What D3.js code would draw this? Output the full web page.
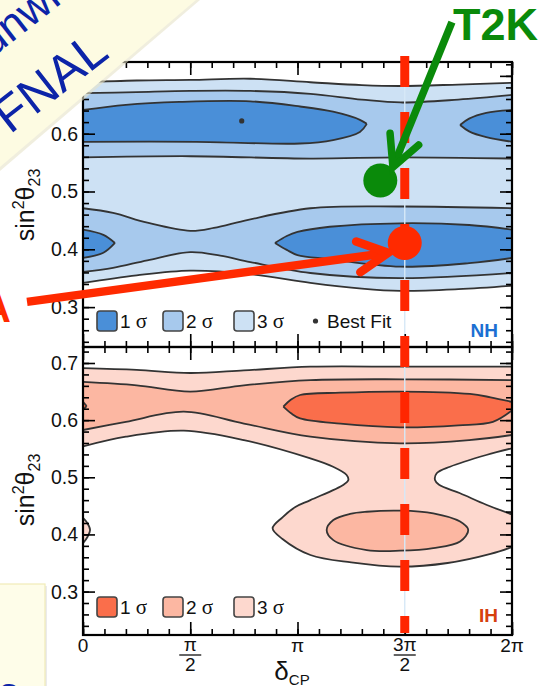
<!DOCTYPE html>
<html><head><meta charset="utf-8">
<script src="https://cdn.jsdelivr.net/npm/d3@7"></script>
<style>
body{margin:0;background:#fff;overflow:hidden;}
svg{display:block;font-family:"Liberation Sans",Arial,Helvetica,sans-serif;}
</style>
</head><body>
<svg id="chart" width="539" height="686"></svg>
<script>
// Allowed regions in (δCP / π, sin²θ23). Each contour line is a list of [δ/π, sin²θ23].

// ---- Normal hierarchy ----
const nh3Top    = [[0,0.689],[0.25,0.692],[0.5,0.693],[0.78,0.695],[1.06,0.689],[1.3,0.684],[1.48,0.6825],[1.75,0.685],[2,0.688]];
const nh3Bottom = [[0,0.342],[0.25,0.355],[0.5,0.363],[0.78,0.357],[1.06,0.342],[1.3,0.332],[1.48,0.328],[1.75,0.331],[2,0.337]];
const nh2UpperTop    = [[0,0.670],[0.25,0.672],[0.5,0.674],[0.78,0.674],[1.06,0.669],[1.3,0.659],[1.48,0.654],[1.75,0.659],[2,0.667]];
const nh2UpperBottom = [[0,0.559],[0.5,0.561],[1.06,0.557],[1.48,0.559],[2,0.557]];
const nh2LowerTop    = [[0,0.471],[0.14,0.463],[0.30,0.446],[0.5,0.432],[0.61,0.437],[0.77,0.451],[1.06,0.471],[1.48,0.474],[2,0.471]];
const nh2LowerBottom = [[0,0.361],[0.14,0.368],[0.30,0.381],[0.5,0.395],[0.64,0.389],[0.78,0.378],[1.06,0.359],[1.48,0.350],[2,0.359]];
const nh1UpperTop    = [[0,0.641],[0.2,0.650],[0.45,0.655],[0.78,0.656],[1.012,0.647],[1.166,0.638],[1.291,0.624],[1.323,0.617]];
const nh1UpperBottom = [[0,0.586],[0.53,0.586],[1.012,0.583],[1.166,0.589],[1.291,0.603],[1.323,0.617]];
const nh1WrapTop     = [[1.758,0.615],[1.80,0.626],[1.88,0.636],[2,0.641]];
const nh1WrapBottom  = [[1.758,0.615],[1.80,0.604],[1.88,0.594],[2,0.586]];
const nh1LowerTop    = [[0.895,0.411],[0.95,0.423],[1.0,0.430],[1.15,0.439],[1.48,0.445],[1.80,0.442],[2,0.434]];
const nh1LowerBottom = [[0.895,0.411],[0.95,0.399],[1.0,0.390],[1.15,0.383],[1.48,0.370],[1.80,0.376],[2,0.385]];
const nh1EdgeTop     = [[0,0.434],[0.095,0.425],[0.149,0.411]];
const nh1EdgeBottom  = [[0,0.385],[0.095,0.394],[0.149,0.411]];
const nhBestFit = [0.74, 0.622];

// ---- Inverted hierarchy ----
const ih3Top   = [[0,0.691],[0.25,0.688],[0.5,0.6825],[0.75,0.687],[1.06,0.6935],[1.5,0.6935],[2,0.6935]];
const ih3Left  = [[0,0.554],[0.2,0.571],[0.47,0.5815],[0.75,0.565],[1.06,0.533],[1.166,0.5185],[1.229,0.504],[1.237,0.4952],[1.215,0.487],[1.06,0.46],[0.99,0.448],[0.93,0.43],[0.884,0.4107],[0.93,0.392],[1.06,0.364],[1.25,0.351],[1.478,0.3435],[1.7,0.350],[1.9,0.366],[2,0.378]];
const ih3Right = [[2,0.5507],[1.88,0.539],[1.711,0.5185],[1.649,0.507],[1.641,0.4952],[1.66,0.487],[1.758,0.472],[1.88,0.452],[2,0.435]];
const ih3Edge  = [[0,0.4288],[0.02,0.42],[0.033,0.4077],[0.02,0.395],[0,0.3845]];
const ih2Top    = [[0,0.667],[0.25,0.661],[0.5,0.650],[0.75,0.661],[1.06,0.670],[1.5,0.6715],[2,0.670]];
const ih2Bottom = [[0,0.5827],[0.2,0.597],[0.47,0.6148],[0.75,0.594],[1.06,0.571],[1.48,0.5595],[1.8,0.565],[2,0.574]];
const ih2Blob   = [[1.136,0.4077],[1.167,0.4252],[1.245,0.436],[1.323,0.4397],[1.478,0.4415],[1.633,0.437],[1.758,0.4225],[1.796,0.4077],[1.758,0.3875],[1.633,0.376],[1.478,0.3715],[1.323,0.3727],[1.167,0.390]];
const ih1Top    = [[0.934,0.6235],[0.97,0.636],[1.012,0.644],[1.2,0.648],[1.478,0.650],[1.804,0.6458],[1.9,0.640],[2,0.632]];
const ih1Bottom = [[0.934,0.6235],[0.97,0.612],[1.012,0.6032],[1.2,0.594],[1.478,0.5875],[1.75,0.591],[1.911,0.597],[2,0.617]];
const ih1EdgeTop    = [[0,0.632],[0.017,0.6247]];
const ih1EdgeBottom = [[0,0.618],[0.017,0.6247]];

// ---- Reference points ----
const t2kPoint  = [1.386, 0.519];
const novaPoint = [1.5, 0.411];
const t2kArrow  = [[1.72, 0.793], [1.445, 0.542]];
const novaArrow = [[-0.261, 0.309], [1.423, 0.394]];
const maxViolation = 1.5;

// ---- Axis ticks ----
const xMinorTicks = d3.range(0, 2.001, 0.1);
const xMajorTicks = [0, 0.5, 1, 1.5, 2];
const xTickLabels = [
  {v:0,   num:"0"},
  {v:0.5, num:"π", den:"2"},
  {v:1,   num:"π"},
  {v:1.5, num:"3π", den:"2"},
  {v:2,   num:"2π"}
];
const yMinorTicks = d3.range(0.24, 0.721, 0.02);
const yMajorTicks = [0.3, 0.4, 0.5, 0.6, 0.7];
const sigmaLabels = ["1", "2", "3"];

const blues = ["#4a8fd8", "#a7c9ed", "#cde1f4"];
const reds  = ["#fa6e4b", "#fcb7a2", "#fdd8ce"];
const lineColor = "#333";

const svg = d3.select("#chart");
const L = 83, R = 512;
const x = d3.scaleLinear().domain([0, 2]).range([L, R]);

const panels = [
  {id:"nh", y: d3.scaleLinear().domain([0.231, 0.724]).range([347, 62]), top:62, bottom:347,
   ticks:[0.3,0.4,0.5,0.6], colors: blues, name:"NH", nameColor:"#1c6fd2", titleY:205},
  {id:"ih", y: d3.scaleLinear().domain([0.224, 0.728]).range([635, 347]), top:347, bottom:635,
   ticks:[0.3,0.4,0.5,0.6,0.7], colors: reds, name:"IH", nameColor:"#d6400e", titleY:490}
];

const defs = svg.append("defs");
panels.forEach(p => {
  defs.append("clipPath").attr("id", "clip-" + p.id)
    .append("rect").attr("x", L).attr("y", p.top).attr("width", R - L).attr("height", p.bottom - p.top);
});

function lineGen(y) {
  return d3.line().x(d => x(d[0])).y(d => y(d[1])).curve(d3.curveCatmullRom.alpha(0.5));
}
// Join several curves into one closed outline, straight segments between them.
function regionPath(y, parts) {
  const lg = lineGen(y);
  return parts.map((c, i) => {
    const s = lg(c);
    return i === 0 ? s : "L" + s.slice(1);
  }).join("") + "Z";
}
const rev = a => a.slice().reverse();

function drawPanel(p, fills, strokes, closedFills, closedStrokes) {
  const g = svg.append("g").attr("clip-path", `url(#clip-${p.id})`);
  fills.forEach(f => {
    g.append("path").attr("d", regionPath(p.y, f.parts)).attr("fill", p.colors[f.level]);
  });
  const lgc = d3.line().x(d => x(d[0])).y(d => p.y(d[1])).curve(d3.curveCatmullRomClosed.alpha(0.5));
  closedFills.forEach(f => {
    g.append("path").attr("d", lgc(f.pts)).attr("fill", p.colors[f.level]);
  });
  const lg = lineGen(p.y);
  strokes.forEach(c => {
    g.append("path").attr("d", lg(c)).attr("fill", "none")
      .attr("stroke", lineColor).attr("stroke-width", 1.8).attr("stroke-linejoin", "round");
  });
  closedStrokes.forEach(c => {
    g.append("path").attr("d", lgc(c)).attr("fill", "none")
      .attr("stroke", lineColor).attr("stroke-width", 1.8);
  });
  return g;
}

// NH contours
const gNH = drawPanel(panels[0],
  [
    {level:2, parts:[nh3Top, rev(nh3Bottom)]},
    {level:1, parts:[nh2UpperTop, rev(nh2UpperBottom)]},
    {level:1, parts:[nh2LowerTop, rev(nh2LowerBottom)]},
    {level:0, parts:[nh1UpperTop, rev(nh1UpperBottom)]},
    {level:0, parts:[nh1WrapTop, rev(nh1WrapBottom)]},
    {level:0, parts:[nh1LowerTop, rev(nh1LowerBottom)]},
    {level:0, parts:[nh1EdgeTop, rev(nh1EdgeBottom)]}
  ],
  [nh3Top, nh3Bottom, nh2UpperTop, nh2UpperBottom, nh2LowerTop, nh2LowerBottom,
   nh1UpperTop, nh1UpperBottom, nh1WrapTop, nh1WrapBottom, nh1LowerTop, nh1LowerBottom, nh1EdgeTop, nh1EdgeBottom],
  [], []);
gNH.append("circle").attr("cx", x(nhBestFit[0])).attr("cy", panels[0].y(nhBestFit[1])).attr("r", 2.6).attr("fill", "#333");

// IH contours
drawPanel(panels[1],
  [
    {level:2, parts:[ih3Top, ih3Right, rev(ih3Left)]},
    {level:2, parts:[ih3Edge]},
    {level:1, parts:[ih2Top, rev(ih2Bottom)]},
    {level:0, parts:[ih1Top, rev(ih1Bottom)]},
    {level:0, parts:[ih1EdgeTop, rev(ih1EdgeBottom)]}
  ],
  [ih3Top, ih3Left, ih3Right, ih3Edge, ih2Top, ih2Bottom, ih1Top, ih1Bottom, ih1EdgeTop, ih1EdgeBottom],
  [{level:1, pts: ih2Blob}], [ih2Blob]);

// thin guide at 3π/2 through both panels
svg.append("line").attr("x1", x(maxViolation)).attr("x2", x(maxViolation))
  .attr("y1", panels[0].top).attr("y2", panels[1].bottom)
  .attr("stroke", "#d7e8f7").attr("stroke-width", 1.4);

// Axes: inward ticks on all four sides
function styleAxis(sel) {
  sel.select(".domain").remove();
  sel.selectAll(".tick line").attr("stroke", "#000").attr("stroke-width", 1.6);
  sel.selectAll(".tick text").remove();
}
panels.forEach(p => {
  [[xMinorTicks, 6], [xMajorTicks, 13]].forEach(([vals, len]) => {
    svg.append("g").attr("transform", `translate(0,${p.bottom})`)
      .call(d3.axisBottom(x).tickValues(vals).tickSize(-len)).call(styleAxis);
    svg.append("g").attr("transform", `translate(0,${p.top})`)
      .call(d3.axisTop(x).tickValues(vals).tickSize(-len)).call(styleAxis);
  });
  const yDom = p.y.domain();
  const inDom = v => v > yDom[0] + 0.003 && v < yDom[1] - 0.003;
  [[yMinorTicks.filter(inDom), 6], [yMajorTicks.filter(inDom), 12]].forEach(([vals, len]) => {
    svg.append("g").attr("transform", `translate(${L},0)`)
      .call(d3.axisLeft(p.y).tickValues(vals).tickSize(-len)).call(styleAxis);
    svg.append("g").attr("transform", `translate(${R},0)`)
      .call(d3.axisRight(p.y).tickValues(vals).tickSize(-len)).call(styleAxis);
  });
  svg.append("rect").attr("x", L).attr("y", p.top).attr("width", R - L).attr("height", p.bottom - p.top)
    .attr("fill", "none").attr("stroke", "#000").attr("stroke-width", 2.2);

  // y tick labels
  p.ticks.forEach(v => {
    svg.append("text").attr("x", 78).attr("y", p.y(v) + 7).attr("text-anchor", "end")
      .attr("font-size", 19.5).attr("fill", "#111").text(v.toFixed(1));
  });
  // y title sin²θ23
  const t = svg.append("text")
    .attr("transform", `translate(34,${p.titleY}) rotate(-90)`)
    .attr("text-anchor", "middle").attr("font-size", 25).attr("fill", "#111");
  t.append("tspan").text("sin");
  t.append("tspan").attr("font-size", 16).attr("dy", -10).text("2");
  t.append("tspan").attr("dy", 10).text("θ");
  t.append("tspan").attr("font-size", 16).attr("dy", 6).text("23");

  // panel name
  svg.append("text").attr("x", 498).attr("y", p.id === "nh" ? 337 : 622).attr("text-anchor", "end")
    .attr("font-size", 19).attr("font-weight", "bold").attr("fill", p.nameColor).text(p.name);

  // legend
  const ly = p.id === "nh" ? 311 : 597;
  const lx = [97, 163, 234];
  sigmaLabels.forEach((s, i) => {
    svg.append("rect").attr("x", lx[i]).attr("y", ly).attr("width", 20).attr("height", 20).attr("rx", 3)
      .attr("fill", p.colors[i]).attr("stroke", "#444").attr("stroke-width", 1.6);
    const tt = svg.append("text").attr("x", lx[i] + 23).attr("y", ly + 17).attr("font-size", 19).attr("fill", "#111");
    tt.append("tspan").text(s + " ");
    tt.append("tspan").attr("font-family", "'Liberation Serif',serif").attr("font-size", 21).text("σ");
  });
  if (p.id === "nh") {
    svg.append("circle").attr("cx", 315.5).attr("cy", ly + 10).attr("r", 2.6).attr("fill", "#333");
    svg.append("text").attr("x", 327).attr("y", ly + 17).attr("font-size", 19).attr("fill", "#111").text("Best Fit");
  }
});

// x tick labels
xTickLabels.forEach(d => {
  const cx = x(d.v);
  if (d.den) {
    svg.append("text").attr("x", cx).attr("y", 651).attr("text-anchor", "middle").attr("font-size", 19)
      .attr("fill", "#111").text(d.num);
    svg.append("line").attr("x1", cx - 11).attr("x2", cx + 11).attr("y1", 655).attr("y2", 655)
      .attr("stroke", "#111").attr("stroke-width", 1.3);
    svg.append("text").attr("x", cx).attr("y", 671).attr("text-anchor", "middle").attr("font-size", 19)
      .attr("fill", "#111").text(d.den);
  } else {
    svg.append("text").attr("x", cx).attr("y", 652).attr("text-anchor", "middle").attr("font-size", 19)
      .attr("fill", "#111").text(d.num);
  }
});
const xt = svg.append("text").attr("x", 292).attr("y", 680).attr("text-anchor", "middle").attr("font-size", 26).attr("fill", "#111");
xt.append("tspan").text("δ");
xt.append("tspan").attr("font-size", 15).attr("dy", 5).text("CP");

// dashed line at maximal CP violation
svg.append("line").attr("x1", x(maxViolation)).attr("x2", x(maxViolation))
  .attr("y1", 56).attr("y2", 633)
  .attr("stroke", "#ff2600").attr("stroke-width", 9).attr("stroke-dasharray", "31,25");

// arrow helper: shaft + open head
function arrow(pts, y, color, width) {
  const [a, b] = pts;
  const x1 = x(a[0]), y1 = y(a[1]), x2 = x(b[0]), y2 = y(b[1]);
  const ang = Math.atan2(y2 - y1, x2 - x1);
  const len = 34, spread = 27 * Math.PI / 180;
  const w1 = [x2 - len * Math.cos(ang - spread), y2 - len * Math.sin(ang - spread)];
  const w2 = [x2 - len * Math.cos(ang + spread), y2 - len * Math.sin(ang + spread)];
  svg.append("line").attr("x1", x1).attr("y1", y1).attr("x2", x2 - 3 * Math.cos(ang)).attr("y2", y2 - 3 * Math.sin(ang))
    .attr("stroke", color).attr("stroke-width", width);
  svg.append("path").attr("d", `M${w1}L${x2},${y2}L${w2}`).attr("fill", "none")
    .attr("stroke", color).attr("stroke-width", width).attr("stroke-linejoin", "miter").attr("stroke-linecap", "round");
}
const yNH = panels[0].y;
svg.append("circle").attr("cx", x(t2kPoint[0])).attr("cy", yNH(t2kPoint[1])).attr("r", 17).attr("fill", "#0a8a0a");
svg.append("circle").attr("cx", x(novaPoint[0])).attr("cy", yNH(novaPoint[1])).attr("r", 17).attr("fill", "#ff2a00");
arrow(t2kArrow, yNH, "#0a8a0a", 7.5);
arrow(novaArrow, yNH, "#ff2a00", 8.5);

svg.append("text").attr("x", 453).attr("y", 40).attr("font-size", 45).attr("font-weight", "bold")
  .attr("fill", "#0a8a0a").text("T2K");
svg.append("text").attr("x", 11).attr("y", 322).attr("text-anchor", "end").attr("font-size", 40)
  .attr("font-weight", "bold").attr("fill", "#ff2a00").text("NOvA");

// sticky note, upper left
const note = svg.append("g");
note.append("path").attr("d", "M0,0 L200,0 L0,171 Z").attr("fill", "#e6e3c8").attr("opacity", 0.6);
note.append("path").attr("d", "M0,0 L196,0 L0,167 Z").attr("fill", "#fdfbe2");
note.append("text").attr("transform", "translate(50,82) rotate(-38)").attr("text-anchor", "middle")
  .attr("dominant-baseline", "central").attr("font-size", 50).attr("fill", "#0c24a8").text("FNAL");
note.append("text").attr("transform", "translate(5,28) rotate(-38)").attr("text-anchor", "middle")
  .attr("dominant-baseline", "central").attr("font-size", 44).attr("fill", "#0c24a8").text("Dunwi");

// note, lower left
const note2 = svg.append("g");
note2.append("rect").attr("x", 41).attr("y", 586).attr("width", 6).attr("height", 110).attr("fill", "#ddd").attr("opacity", 0.6);
note2.append("rect").attr("x", -5).attr("y", 584).attr("width", 50).attr("height", 120)
  .attr("fill", "#fefde9").attr("stroke", "#f1ecb8").attr("stroke-width", 1.2);
note2.append("text").attr("x", -2).attr("y", 706).attr("font-size", 40).attr("fill", "#0c24a8").text("a");
</script>
</body></html>
